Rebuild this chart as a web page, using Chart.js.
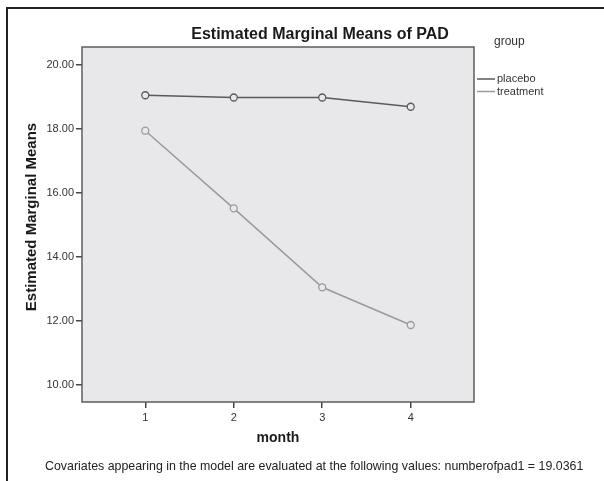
<!DOCTYPE html>
<html>
<head>
<meta charset="utf-8">
<script src="https://cdn.jsdelivr.net/npm/chart.js@4"></script>
<style>
  html, body { margin: 0; padding: 0; background: #fff; }
  canvas { display: block; }
</style>
</head>
<body>
<canvas id="emmChart" width="604" height="481"></canvas>
<script>
// values
const months = [1, 2, 3, 4];
const placebo = [19.06, 18.99, 18.99, 18.70];
const treatment = [17.95, 15.52, 13.05, 11.87];
const yTicks = [10, 12, 14, 16, 18, 20];
const groupNames = ['placebo', 'treatment'];
const groupColors = ['#5a5a5a', '#9a9a9a'];

const FONT = "'Liberation Sans', Arial, sans-serif";
const PLOT_BG = '#e8e8ea';

function toPoints(vals) {
    return months.map((m, i) => ({ x: m, y: vals[i] }));
}

// frame, titles, legend and footnote drawn around the chart area
const spssDecor = {
    id: 'spssDecor',
    beforeDraw(chart) {
        const { ctx, chartArea: a } = chart;
        ctx.save();
        ctx.fillStyle = '#fff';
        ctx.fillRect(0, 0, chart.width, chart.height);
        ctx.fillStyle = PLOT_BG;
        ctx.fillRect(a.left, a.top, a.right - a.left, a.bottom - a.top);
        ctx.restore();
    },
    afterDraw(chart) {
        const { ctx, chartArea: a } = chart;
        ctx.save();

        // plot box
        ctx.strokeStyle = '#5c5c5c';
        ctx.lineWidth = 1.5;
        ctx.strokeRect(a.left, a.top, a.right - a.left, a.bottom - a.top);

        // outer frame (runs off the right and bottom of the picture)
        ctx.strokeStyle = '#222';
        ctx.lineWidth = 2;
        ctx.beginPath();
        ctx.moveTo(chart.width, 8);
        ctx.lineTo(7, 8);
        ctx.lineTo(7, chart.height);
        ctx.stroke();

        // title
        ctx.fillStyle = '#1a1a1a';
        ctx.textAlign = 'center';
        ctx.textBaseline = 'middle';
        ctx.font = 'bold 16px ' + FONT;
        ctx.fillText('Estimated Marginal Means of PAD', 320, 35);

        // axis titles
        ctx.font = 'bold 14px ' + FONT;
        ctx.fillText('month', (a.left + a.right) / 2, 438);
        ctx.save();
        ctx.translate(32, 217);
        ctx.rotate(-Math.PI / 2);
        ctx.font = 'bold 15px ' + FONT;
        ctx.fillText('Estimated Marginal Means', 0, 0);
        ctx.restore();

        // legend
        ctx.textAlign = 'left';
        ctx.fillStyle = '#333';
        ctx.font = '12px ' + FONT;
        ctx.fillText('group', 494, 42);
        ctx.font = '11px ' + FONT;
        chart.data.datasets.forEach((ds, i) => {
            const y = 79 + i * 12.5;
            ctx.strokeStyle = ds.borderColor;
            ctx.lineWidth = 1.5;
            ctx.beginPath();
            ctx.moveTo(477, y);
            ctx.lineTo(495, y);
            ctx.stroke();
            ctx.fillStyle = '#333';
            ctx.fillText(ds.label, 497, y);
        });

        // footnote
        ctx.font = '12.4px ' + FONT;
        ctx.fillStyle = '#222';
        ctx.fillText('Covariates appearing in the model are evaluated at the following values: numberofpad1 = 19.0361', 45, 467);

        ctx.restore();
    }
};

new Chart(document.getElementById('emmChart').getContext('2d'), {
    type: 'line',
    data: {
        datasets: [placebo, treatment].map((vals, i) => ({
            label: groupNames[i],
            data: toPoints(vals),
            borderColor: groupColors[i],
            borderWidth: 1.5,
            pointRadius: 3.5,
            pointBorderWidth: 1.3,
            pointBorderColor: groupColors[i],
            pointBackgroundColor: PLOT_BG,
            tension: 0,
            fill: false
        }))
    },
    options: {
        responsive: false,
        animation: false,
        devicePixelRatio: 1,
        layout: { padding: { top: 47, right: 130, left: 0, bottom: 0 } },
        plugins: {
            legend: { display: false },
            title: { display: false },
            tooltip: { enabled: false }
        },
        scales: {
            x: {
                type: 'linear',
                min: 0.285,
                max: 4.715,
                border: { display: false },
                grid: { drawOnChartArea: false, drawTicks: true, tickLength: 6, color: '#444', lineWidth: 1.5 },
                ticks: { color: '#333', font: { family: FONT, size: 11 }, padding: 3 },
                afterBuildTicks: s => { s.ticks = months.map(v => ({ value: v })); },
                afterFit: s => { s.height = 79; }
            },
            y: {
                min: 9.46,
                max: 20.57,
                border: { display: false },
                grid: { drawOnChartArea: false, drawTicks: true, tickLength: 6, color: '#444', lineWidth: 1.5 },
                ticks: {
                    color: '#333',
                    font: { family: FONT, size: 11 },
                    padding: 2,
                    callback: v => v.toFixed(2)
                },
                afterBuildTicks: s => { s.ticks = yTicks.map(v => ({ value: v })); },
                afterFit: s => { s.width = 82; }
            }
        }
    },
    plugins: [spssDecor]
});
</script>
</body>
</html>
